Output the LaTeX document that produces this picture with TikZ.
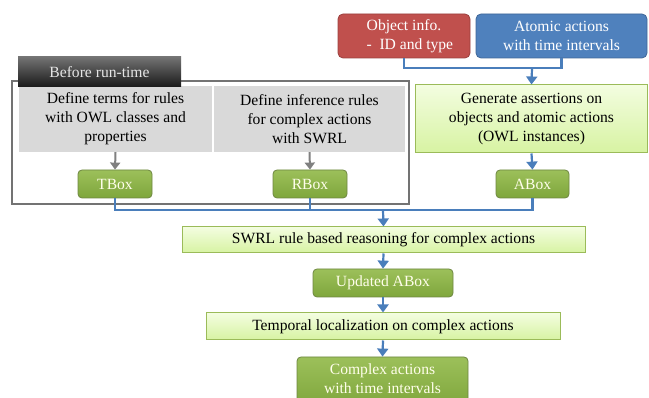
\documentclass[tikz,border=0pt]{standalone}
\usepackage{fontspec}
\setmainfont{Liberation Serif}
\usetikzlibrary{arrows.meta}
\definecolor{bluel}{HTML}{4A7EBB}
\definecolor{redb}{HTML}{C0504D}
\definecolor{blueb}{HTML}{4F81BD}
\definecolor{gdark}{HTML}{7FA63C}
\definecolor{gtop}{HTML}{9CC05A}
\definecolor{gborder}{HTML}{8AA852}
\definecolor{lgtop}{HTML}{F3FDE0}
\definecolor{lgbot}{HTML}{D7F3A2}
\definecolor{lgborder}{HTML}{9BBB59}
\tikzset{
  x=1pt, y=-1pt,
  every node/.style={font=\fontsize{15.6}{19}\selectfont, align=center, inner sep=0pt},
  srcbox/.style={rounded corners=5pt, draw=#1!80!black, line width=0.8pt, fill=#1, text=white},
  lightbox/.style={draw=lgborder, line width=1pt, top color=lgtop, bottom color=lgbot},
  darkbox/.style={rounded corners=4pt, draw=gborder!80!black, line width=0.8pt, top color=gtop, bottom color=gdark, text=white!92!yellow},
  graybox/.style={fill=black!15},
  bl/.style={draw=bluel, line width=2.2pt},
  blarrow/.style={bl, -{Triangle[width=11pt,length=8pt]}},
  grarrow/.style={draw=black!50, line width=2pt, -{Triangle[width=10pt,length=7pt]}},
}
\begin{document}
\begin{tikzpicture}
\useasboundingbox (0,0) rectangle (649,398);
% top source boxes
\node[srcbox=redb, minimum width=132pt, minimum height=44pt] (obj) at (404,36) {Object info.\\\phantom{x} - \ ID and type};
\node[srcbox=blueb, minimum width=171pt, minimum height=44pt] (atom) at (561.5,36) {Atomic actions\\with time intervals};
\node[lightbox, minimum width=232pt, minimum height=68pt] (gen) at (531.5,119) {Generate assertions on\\objects and atomic actions\\(OWL instances)};
\node[darkbox, minimum width=73pt, minimum height=28pt] (abox) at (532.5,184) {ABox};
% before run-time frame
\node[draw=black!55, line width=1.2pt, minimum width=397pt, minimum height=123pt] (frame) at (210.5,142.5) {};
\node[graybox, minimum width=193pt, minimum height=66pt] (def1) at (115.5,119) {Define terms for rules\\with OWL classes and\\properties};
\node[graybox, minimum width=191pt, minimum height=66pt] (def2) at (309.5,119) {Define inference rules\\for complex actions\\with SWRL};
\node[top color=black!55, bottom color=black!90, text=black!10, minimum width=163pt, minimum height=30pt] (tab) at (99.5,72) {Before run-time};
\node[darkbox, minimum width=74pt, minimum height=28pt] (tbox) at (115,184) {TBox};
\node[darkbox, minimum width=74pt, minimum height=28pt] (rbox) at (310,184) {RBox};
% lower chain
\node[lightbox, minimum width=403pt, minimum height=26pt] (swrl) at (383.5,240) {SWRL rule based reasoning for complex actions};
\node[darkbox, minimum width=140pt, minimum height=28pt] (upd) at (383,283) {Updated ABox};
\node[lightbox, minimum width=354pt, minimum height=27pt] (temp) at (383,326.5) {Temporal localization on complex actions};
\node[darkbox, minimum width=171pt, minimum height=50pt, text depth=0pt] (comp) at (382.5,382) {};
\node (comptext) at (382.5,378.5) {\color{white!92!yellow}Complex actions\\\color{white!92!yellow}with time intervals};
% connectors
\coordinate (j1) at (532,68);
\coordinate (j2) at (383,210);
\draw[bl] (obj.south) |- (j1);
\draw[bl] (atom.south) |- (j1);
\draw[blarrow] (j1) -- (gen.north);
\draw[blarrow] (gen.south) -- (abox.north);
\draw[grarrow] (def1.south) -- (tbox.north);
\draw[grarrow] (def2.south) -- (rbox.north);
\draw[bl] (tbox.south) |- (j2);
\draw[bl] (rbox.south) |- (j2);
\draw[bl] (abox.south) |- (j2);
\draw[blarrow] (j2) -- (swrl.north);
\draw[blarrow] (swrl.south) -- (upd.north);
\draw[blarrow] (upd.south) -- (temp.north);
\draw[blarrow] (temp.south) -- (comp.north);
\end{tikzpicture}
\end{document}
